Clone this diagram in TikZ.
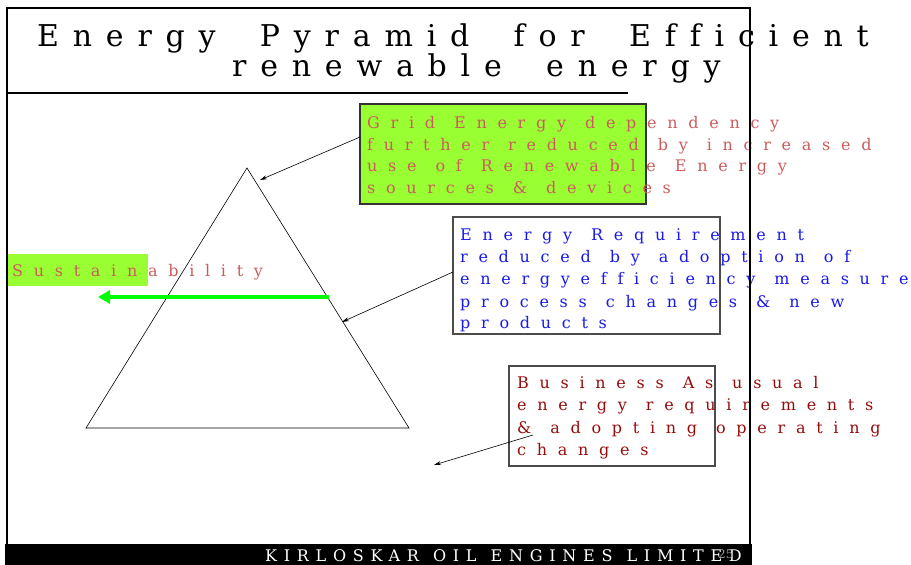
\documentclass[tikz,border=0pt]{standalone}
\usepackage{fontspec}
\setmainfont{DejaVu Serif}
\usetikzlibrary{arrows.meta}
\definecolor{limefill}{RGB}{153,255,51}
\definecolor{rtxt}{RGB}{204,92,92}
\definecolor{btxt}{RGB}{25,25,235}
\definecolor{dtxt}{RGB}{150,12,12}
\definecolor{arrg}{RGB}{0,255,0}
\newfontfamily\ttlfont[LetterSpace=46,WordSpace=1.9,Ligatures=NoCommon]{DejaVu Serif}
\newfontfamily\boxfont[LetterSpace=67,WordSpace=1.2,Ligatures=NoCommon]{DejaVu Serif}
\newfontfamily\footfont[LetterSpace=42,WordSpace=1.2,Ligatures=NoCommon]{DejaVu Serif}
\tikzset{
  ttl/.style={anchor=base west,inner sep=0pt,font=\fontsize{30}{30}\ttlfont},
  ln/.style={anchor=base west,inner sep=0pt,font=\fontsize{16}{22}\boxfont},
  ptr/.style={-{Stealth[length=7pt,width=4pt]},line width=0.6pt},
  framel/.style={line width=2pt,black},
  boxg/.style={draw=black!70,line width=1.2pt},
}
\begin{document}
\begin{tikzpicture}[x=1pt,y=-1pt]
\useasboundingbox (0,0) rectangle (911,565);
% title
\node[ttl] (t1) at (37,46) {Energy Pyramid for Efficient};
\node[ttl] (t2) at (232,76) {renewable energy};
\draw[line width=2pt] (7,93) -- (628,93);
% triangle
\coordinate (apex) at (247,168);
\coordinate (bl) at (86,428);
\coordinate (br) at (409,428);
\draw[line width=0.6pt] (apex) -- (bl) -- (br) -- cycle;
% sustainability
\fill[limefill] (8,254) rectangle (148,286);
\node[ln,text=rtxt] (sus) at (12,276) {Sustainability};
\coordinate (gs) at (329,297);
\coordinate (ge) at (98,297);
\draw[arrg,line width=4.5pt,-{Triangle[length=12pt,width=13pt]}] (gs) -- (ge);
% box 1
\draw[limefill,fill=limefill] (360,104) rectangle (646,204);
\draw[black!80,line width=1.2pt] (360,104) rectangle (646,204);
\node[ln,text=rtxt] (a1) at (367,128) {Grid Energy dependency};
\node[ln,text=rtxt] (a2) at (367,150) {further reduced by increased};
\node[ln,text=rtxt] (a3) at (367,171) {use of Renewable Energy};
\node[ln,text=rtxt] (a4) at (367,193) {sources \& devices};
\coordinate (p1s) at (360,137);
\coordinate (p1e) at (260,180);
\draw[ptr] (p1s) -- (p1e);
% box 2
\draw[boxg] (453,217) rectangle (720,334);
\node[ln,text=btxt] (b1) at (460,240) {Energy Requirement};
\node[ln,text=btxt] (b2) at (460,262) {reduced by adoption of};
\node[ln,text=btxt] (b3) at (460,284) {energyefficiency measures};
\node[ln,text=btxt] (b4) at (460,307) {process changes \& new};
\node[ln,text=btxt] (b5) at (460,328) {products};
\coordinate (p2s) at (453,272);
\coordinate (p2e) at (342,322);
\draw[ptr] (p2s) -- (p2e);
% box 3
\draw[boxg] (509,366) rectangle (715,466);
\node[ln,text=dtxt] (c1) at (517,388) {Business As usual};
\node[ln,text=dtxt] (c2) at (517,410) {energy requirements};
\node[ln,text=dtxt] (c3) at (517,433) {\& adopting operating};
\node[ln,text=dtxt] (c4) at (517,455) {changes};
\coordinate (p3s) at (533,435);
\coordinate (p3e) at (434,465);
\draw[ptr] (p3s) -- (p3e);
% frame
\draw[framel] (7,545) -- (7,8) -- (750,8) -- (750,545);
\fill[black] (5,544) rectangle (752,565);
\node[anchor=base west,inner sep=0pt,text=white,font=\fontsize{16}{16}\footfont] (ft) at (265,561) {KIRLOSKAR OIL ENGINES LIMITED};
\node[anchor=base west,inner sep=0pt,text=black!40,font=\fontsize{12}{12}\selectfont] (pg) at (718,558) {25};
\end{tikzpicture}
\end{document}
